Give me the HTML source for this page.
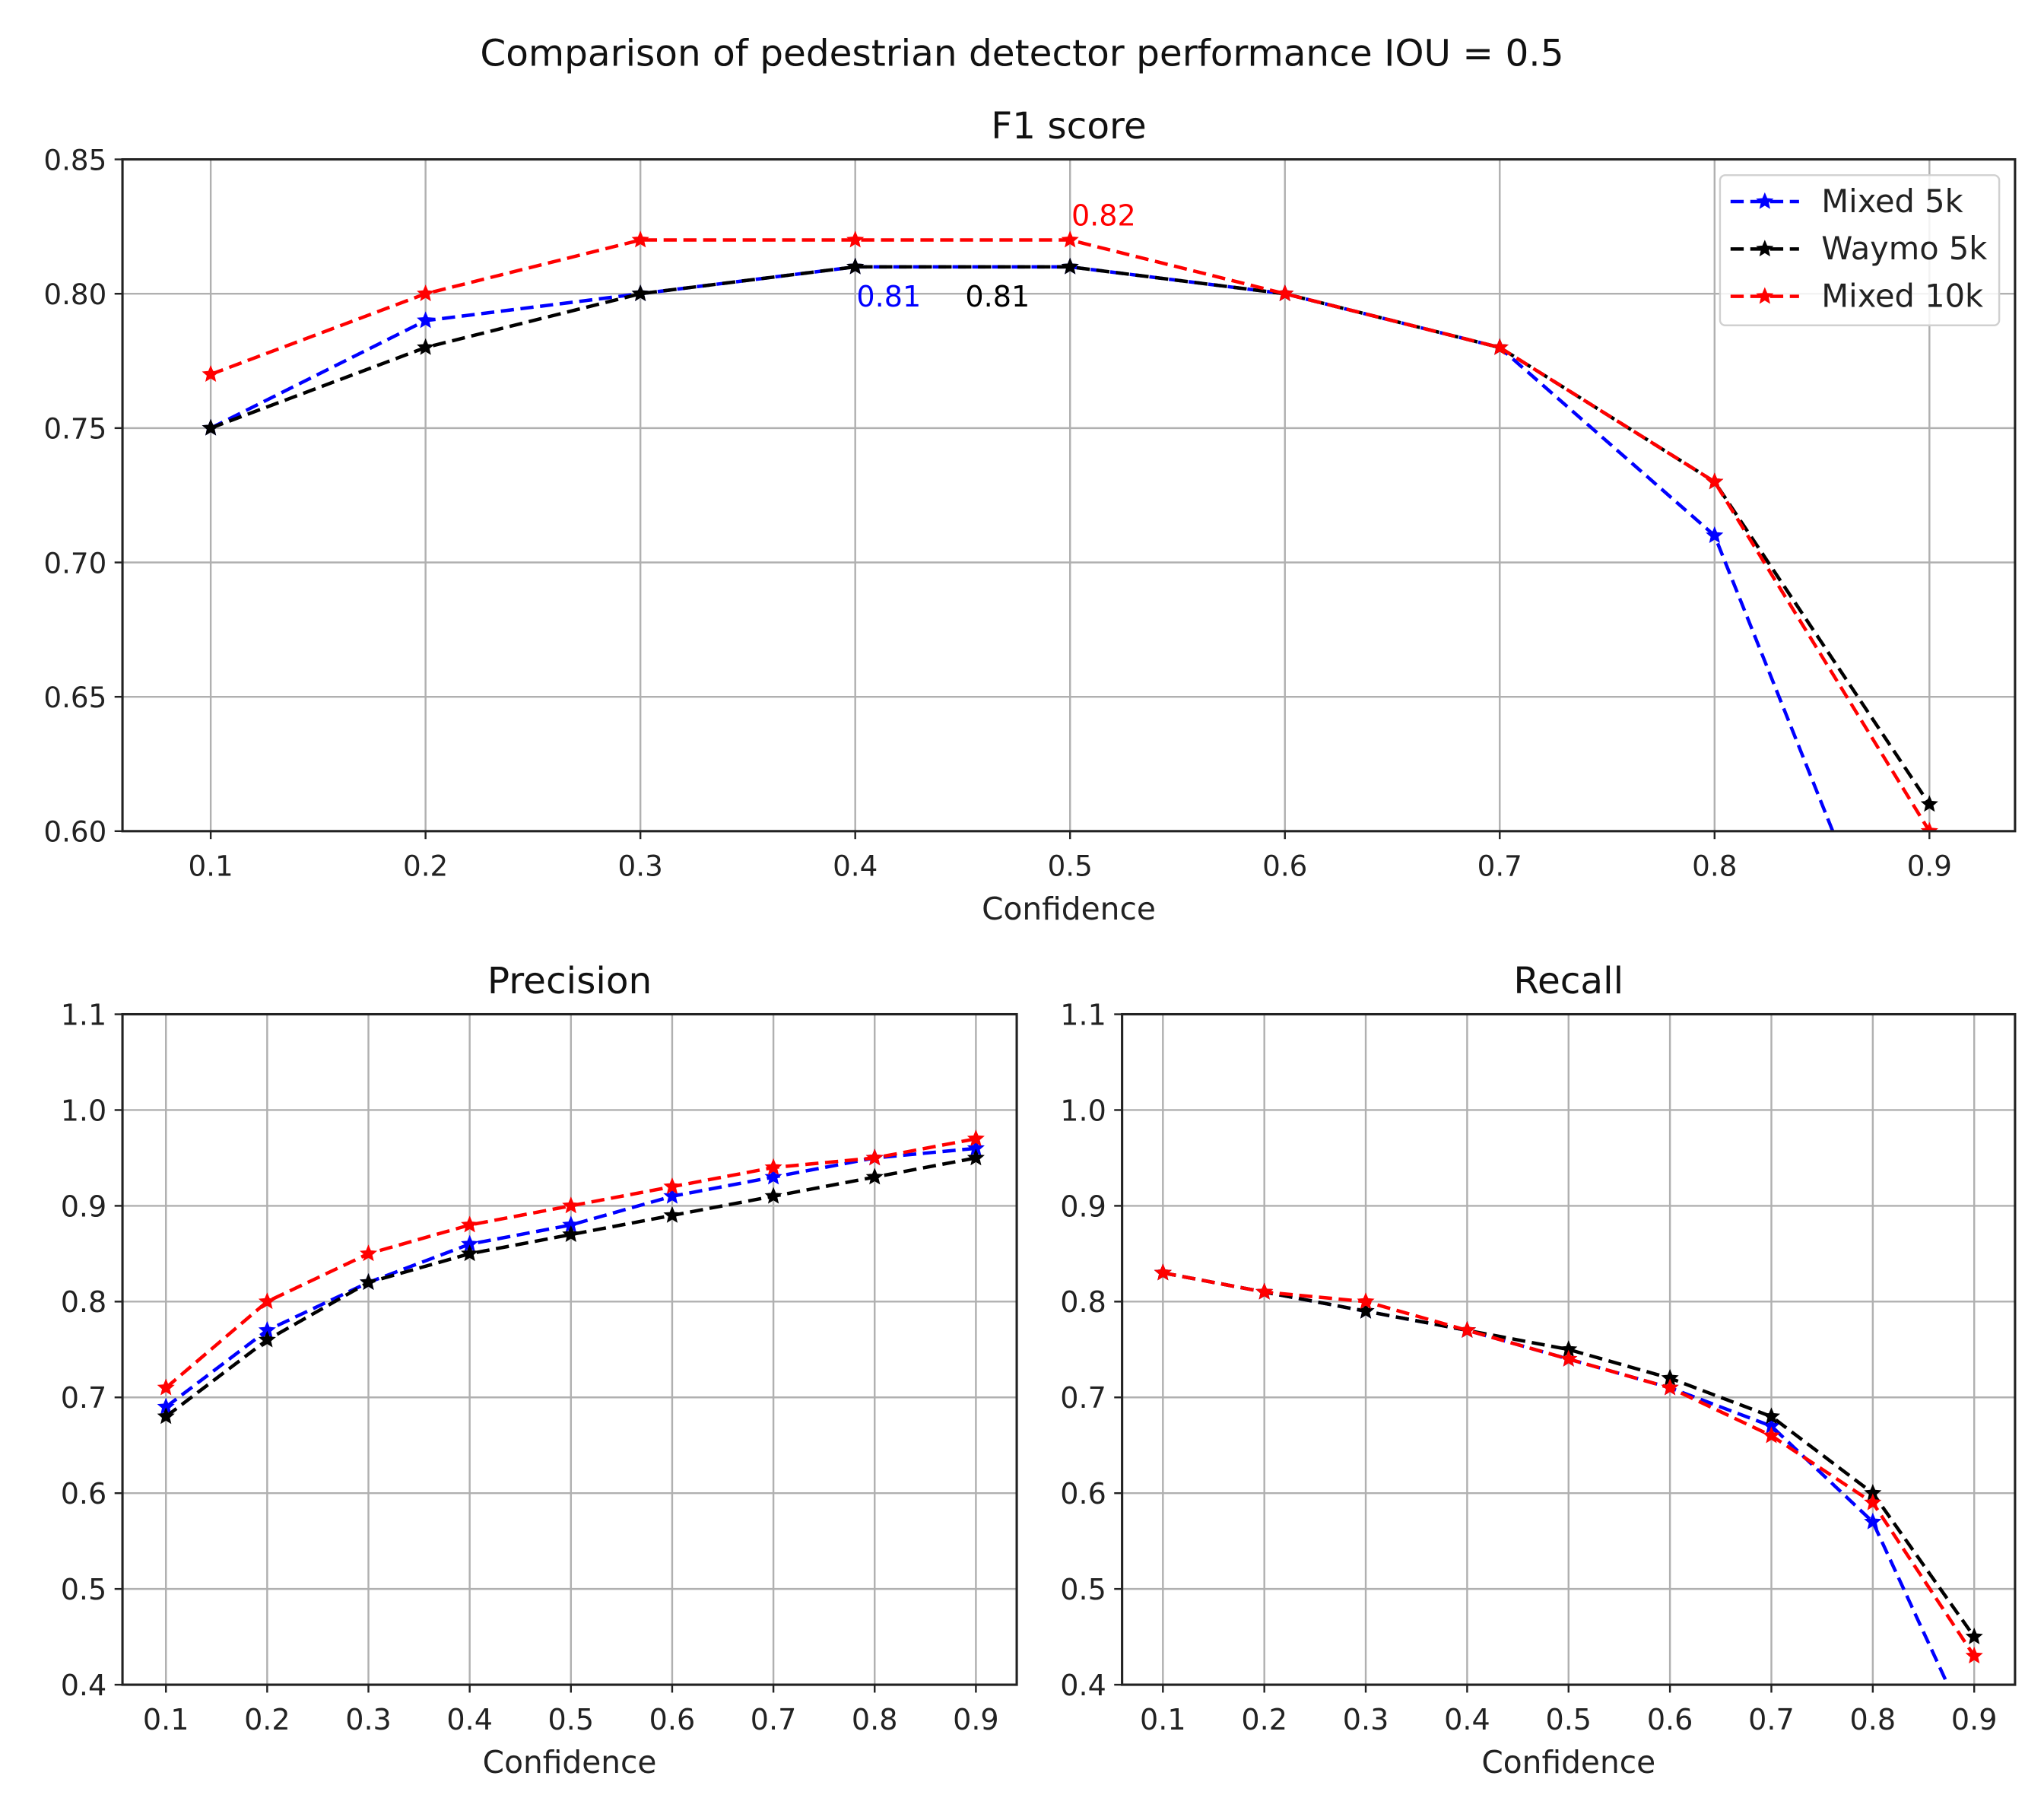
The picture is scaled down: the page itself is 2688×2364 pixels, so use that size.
<!DOCTYPE html>
<html><head><meta charset="utf-8"><style>
html,body{margin:0;padding:0;background:#fff;}
svg{display:block;font-family:"DejaVu Sans","Liberation Sans",sans-serif;}
</style></head><body>
<svg id="fig" width="2688" height="2364" viewBox="0 0 1552 1365" preserveAspectRatio="none" xmlns="http://www.w3.org/2000/svg">
<text x="776" y="50" font-size="28" text-anchor="middle" fill="#111">Comparison of pedestrian detector performance IOU = 0.5</text>
</svg>
<script>
const xCats=[0.1,0.2,0.3,0.4,0.5,0.6,0.7,0.8,0.9];
const seriesNames=["Mixed 5k","Waymo 5k","Mixed 10k"];
const seriesColors=["#0000ff","#000000","#ff0000"];
const f1Mixed5k=[0.75,0.79,0.80,0.81,0.81,0.80,0.78,0.71,0.51];
const f1Waymo5k=[0.75,0.78,0.80,0.81,0.81,0.80,0.78,0.73,0.61];
const f1Mixed10k=[0.77,0.80,0.82,0.82,0.82,0.80,0.78,0.73,0.60];
const precMixed5k=[0.69,0.77,0.82,0.86,0.88,0.91,0.93,0.95,0.96];
const precWaymo5k=[0.68,0.76,0.82,0.85,0.87,0.89,0.91,0.93,0.95];
const precMixed10k=[0.71,0.80,0.85,0.88,0.90,0.92,0.94,0.95,0.97];
const recMixed5k=[0.83,0.81,0.79,0.77,0.74,0.71,0.67,0.57,0.34];
const recWaymo5k=[0.83,0.81,0.79,0.77,0.75,0.72,0.68,0.60,0.45];
const recMixed10k=[0.83,0.81,0.80,0.77,0.74,0.71,0.66,0.59,0.43];
const f1Ticks=["0.60","0.65","0.70","0.75","0.80","0.85"];
const prTicks=["0.4","0.5","0.6","0.7","0.8","0.9","1.0","1.1"];

const NS="http://www.w3.org/2000/svg";
const fig=document.getElementById('fig');
function mk(tag,attrs,parent){const e=document.createElementNS(NS,tag);for(const k in attrs)e.setAttribute(k,attrs[k]);(parent||fig).appendChild(e);return e;}
function star(cx,cy,r){let p=[];for(let i=0;i<10;i++){const a=-Math.PI/2+i*Math.PI/5;const rr=i%2?r*0.45:r;p.push((cx+rr*Math.cos(a)).toFixed(2)+","+(cy+rr*Math.sin(a)).toFixed(2));}return p.join(" ");}

function panel(cfg){
  const g=mk('g',{});
  
  
  const xs=v=>cfg.x1+(v-0.1)/(0.8)*(cfg.x9-cfg.x1);
  const ys=v=>cfg.bottom-(v-cfg.ymin)/(cfg.ymax-cfg.ymin)*(cfg.bottom-cfg.top);
  const cid='clip-'+cfg.name;
  const cp=mk('clipPath',{id:cid},g);
  mk('rect',{x:cfg.left,y:cfg.top,width:cfg.right-cfg.left,height:cfg.bottom-cfg.top},cp);
  xCats.forEach(v=>{const l=mk('line',{x1:xs(v),x2:xs(v),y1:cfg.top,y2:cfg.bottom,stroke:'#b0b0b0','stroke-width':1.4},g);
    });
  cfg.ticks.forEach(t=>{const y=ys(parseFloat(t));const l=mk('line',{x1:cfg.left,x2:cfg.right,y1:y,y2:y,stroke:'#b0b0b0','stroke-width':1.4},g);
    });
  cfg.series.forEach((s,i)=>{
    const sg=mk('g',{'clip-path':'url(#'+cid+')'},g);
    
    
    const pts=s.map((v,j)=>xs(xCats[j]).toFixed(2)+','+ys(v).toFixed(2)).join(' ');
    const pl=mk('polyline',{points:pts,fill:'none',stroke:seriesColors[i],'stroke-width':2.6,'stroke-dasharray':'10,5'},sg);
    
    s.forEach((v,j)=>{const m=mk('polygon',{points:star(xs(xCats[j]),ys(v),7),fill:seriesColors[i]},sg);
      });
  });
  const fr=mk('rect',{x:cfg.left,y:cfg.top,width:cfg.right-cfg.left,height:cfg.bottom-cfg.top,fill:'none',stroke:'#222','stroke-width':1.8},g);
  
  xCats.forEach(v=>{mk('line',{x1:xs(v),x2:xs(v),y1:cfg.bottom,y2:cfg.bottom+6,stroke:'#222','stroke-width':1.4},g);
    const t=mk('text',{x:xs(v),y:cfg.bottom+34,'font-size':cfg.fs,'text-anchor':'middle',fill:'#222'},g);t.textContent=v.toFixed(1);
    });
  cfg.ticks.forEach(tk=>{const y=ys(parseFloat(tk));mk('line',{x1:cfg.left-6,x2:cfg.left,y1:y,y2:y,stroke:'#222','stroke-width':1.4},g);
    const t=mk('text',{x:cfg.left-12,y:y+8,'font-size':cfg.fs,'text-anchor':'end',fill:'#222'},g);t.textContent=tk;
    });
  const ti=mk('text',{x:(cfg.left+cfg.right)/2,y:cfg.top-16,'font-size':cfg.tfs,'text-anchor':'middle',fill:'#111'},g);ti.textContent=cfg.title;
  
  const xl=mk('text',{x:(cfg.left+cfg.right)/2,y:cfg.bottom+67,'font-size':23.5,'text-anchor':'middle',fill:'#222'},g);xl.textContent='Confidence';
  
  return {g,xs,ys};
}

const f1P=panel({name:'f1-panel',title:'F1 score',left:93,right:1530,top:121,bottom:631,x1:160,x9:1465,ymin:0.60,ymax:0.85,ticks:f1Ticks,series:[f1Mixed5k,f1Waymo5k,f1Mixed10k],fs:21.5,tfs:28});
panel({name:'precision-panel',title:'Precision',left:93,right:772,top:770,bottom:1279,x1:126,x9:741,ymin:0.4,ymax:1.1,ticks:prTicks,series:[precMixed5k,precWaymo5k,precMixed10k],fs:22,tfs:28});
panel({name:'recall-panel',title:'Recall',left:852,right:1530,top:770,bottom:1279,x1:883,x9:1499,ymin:0.4,ymax:1.1,ticks:prTicks,series:[recMixed5k,recWaymo5k,recMixed10k],fs:22,tfs:28});

const a1=mk('text',{x:f1P.xs(0.4)+1,y:f1P.ys(0.81)+30,'font-size':22,fill:'#0000ff'},f1P.g);a1.textContent='0.81';

const a2=mk('text',{x:f1P.xs(0.45)+2,y:f1P.ys(0.81)+30,'font-size':22,fill:'#000'},f1P.g);a2.textContent='0.81';

const a3=mk('text',{x:f1P.xs(0.5)+1,y:f1P.ys(0.82)-11,'font-size':22,fill:'#ff0000'},f1P.g);a3.textContent='0.82';


const lg=mk('g',{});


mk('rect',{x:1306,y:133,width:212,height:114,rx:4,fill:'#fff','fill-opacity':0.85,stroke:'#d0d0d0','stroke-width':1.4},lg);
seriesNames.forEach((n,i)=>{
  const y=153+i*36;
  const e=mk('g',{},lg);
  
  
  mk('line',{x1:1314,x2:1366,y1:y,y2:y,stroke:seriesColors[i],'stroke-width':2.6,'stroke-dasharray':'10,5'},e);
  mk('polygon',{points:star(1340,y,7),fill:seriesColors[i]},e);
  const t=mk('text',{x:1383,y:y+8,'font-size':24,fill:'#222'},e);t.textContent=n;
});
</script>
</body></html>
